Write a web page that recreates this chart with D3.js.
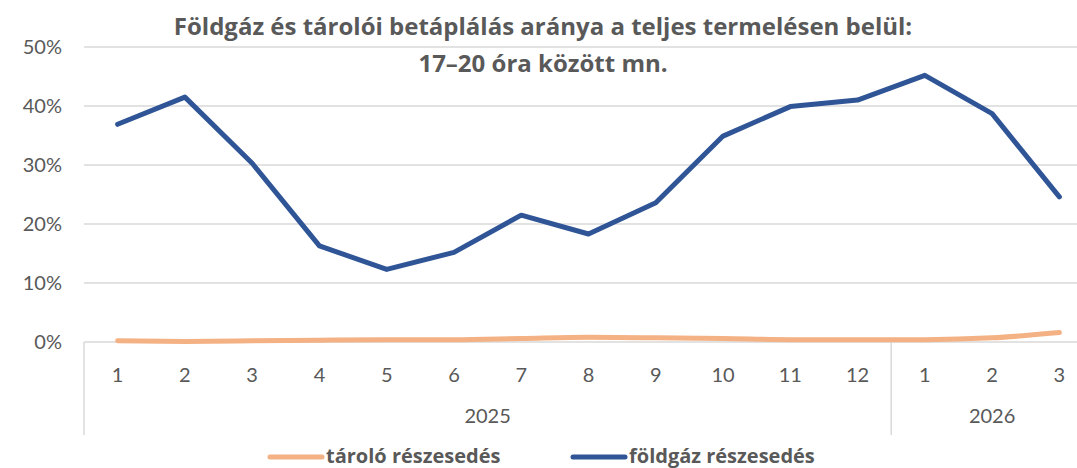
<!DOCTYPE html>
<html>
<head>
<meta charset="utf-8">
<script src="https://cdn.jsdelivr.net/npm/d3@7"></script>
<style>
  body { margin: 0; background: #fff; overflow: hidden; }
  text { font-family: Lato, "Open Sans", sans-serif; fill: #595959; }
  .bold { font-family: "Open Sans", Lato, sans-serif; font-weight: bold; }
</style>
</head>
<body>
<div id="chart"></div>
<script>
// months (category axis), with the year groups underneath
var months = ["1","2","3","4","5","6","7","8","9","10","11","12","1","2","3"]
var years = [{label: "2025", from: 0, to: 12}, {label: "2026", from: 12, to: 15}]

// shares, percent
var taroloShare = [0.2, 0.1, 0.2, 0.3, 0.4, 0.4, 0.6, 0.8, 0.7, 0.6, 0.4, 0.4, 0.4, 0.7, 1.6]
var foldgazShare = [36.9, 41.5, 30.3, 16.3, 12.3, 15.2, 21.5, 18.3, 23.6, 34.9, 39.9, 41.0, 45.2, 38.7, 24.6]

var yTicks = [0, 10, 20, 30, 40, 50]

var svgWidth = 1077
var svgHeight = 468

var svg = d3.select("#chart")
    .append("svg")
    .attr("width", svgWidth)
    .attr("height", svgHeight);

var idx = d3.range(months.length)

var xScale = d3.scaleBand()
    .domain(idx)
    .range([84, 1093]);

var yScale = d3.scaleLinear()
    .domain([0, 50])
    .range([342, 47]);

var xc = i => xScale(i) + xScale.bandwidth() / 2

// gridlines
svg.append("g")
    .selectAll("line")
    .data(yTicks.filter(t => t > 0))
    .join("line")
    .attr("x1", 84)
    .attr("x2", svgWidth)
    .attr("y1", d => yScale(d))
    .attr("y2", d => yScale(d))
    .attr("stroke", "#d9d9d9")
    .attr("stroke-width", 1.5);

// y axis labels
var leftAxis = d3.axisLeft(yScale)
    .tickValues(yTicks)
    .tickFormat(d => d + "%")
    .tickSize(0)
    .tickPadding(22);

var yAxis = svg.append("g")
    .attr("transform", "translate(84,0)")
    .call(leftAxis);
yAxis.select(".domain").remove();
yAxis.selectAll("text")
    .style("font-size", "20px")
    .attr("fill", "#595959");

// x axis baseline
svg.append("line")
    .attr("x1", 84).attr("x2", svgWidth)
    .attr("y1", 342).attr("y2", 342)
    .attr("stroke", "#d9d9d9")
    .attr("stroke-width", 1.5);

// month labels
svg.append("g")
    .selectAll("text")
    .data(idx)
    .join("text")
    .attr("x", d => xc(d))
    .attr("y", 382)
    .attr("text-anchor", "middle")
    .style("font-size", "20px")
    .text(d => months[d]);

// year group separators and labels
var seps = [years[0].from, years[0].to]
svg.append("g")
    .selectAll("line")
    .data(seps)
    .join("line")
    .attr("x1", d => xScale(d))
    .attr("x2", d => xScale(d))
    .attr("y1", 342)
    .attr("y2", 435)
    .attr("stroke", "#d9d9d9")
    .attr("stroke-width", 1.5);

svg.append("g")
    .selectAll("text")
    .data(years)
    .join("text")
    .attr("x", d => (xScale(d.from) + xScale(d.to - 1) + xScale.bandwidth()) / 2)
    .attr("y", 423)
    .attr("text-anchor", "middle")
    .style("font-size", "20px")
    .text(d => d.label);

// lines
var lineGen = d3.line()
    .x(d => xc(d.i))
    .y(d => yScale(d.v));

svg.append("path")
    .datum(taroloShare.map((v, i) => ({i: i, v: v})))
    .attr("d", lineGen.curve(d3.curveMonotoneX))
    .attr("fill", "none")
    .attr("stroke", "#f4b183")
    .attr("stroke-width", 5)
    .attr("stroke-linecap", "round")
    .attr("stroke-linejoin", "round");

svg.append("path")
    .datum(foldgazShare.map((v, i) => ({i: i, v: v})))
    .attr("d", lineGen.curve(d3.curveLinear))
    .attr("fill", "none")
    .attr("stroke", "#2f5597")
    .attr("stroke-width", 5)
    .attr("stroke-linecap", "round")
    .attr("stroke-linejoin", "round");

// title
var title = svg.append("text")
    .attr("class", "bold")
    .attr("text-anchor", "middle")
    .style("font-size", "24px");
title.append("tspan").attr("x", 543).attr("y", 35)
    .text("Földgáz és tárolói betáplálás aránya a teljes termelésen belül:");
title.append("tspan").attr("x", 543).attr("y", 72)
    .text("17–20 óra között mn.");

// legend
var legend = [
    {name: "tároló részesedés", color: "#f4b183", x: 270},
    {name: "földgáz részesedés", color: "#2f5597", x: 573}
]
var lg = svg.append("g")
    .selectAll("g")
    .data(legend)
    .join("g")
    .attr("transform", d => "translate(" + d.x + ",457)");
lg.append("line")
    .attr("x1", 0).attr("x2", 52)
    .attr("stroke", d => d.color)
    .attr("stroke-width", 5)
    .attr("stroke-linecap", "round");
lg.append("text")
    .attr("class", "bold")
    .attr("x", 56)
    .attr("y", 6)
    .style("font-size", "20px")
    .text(d => d.name);
</script>
</body>
</html>
